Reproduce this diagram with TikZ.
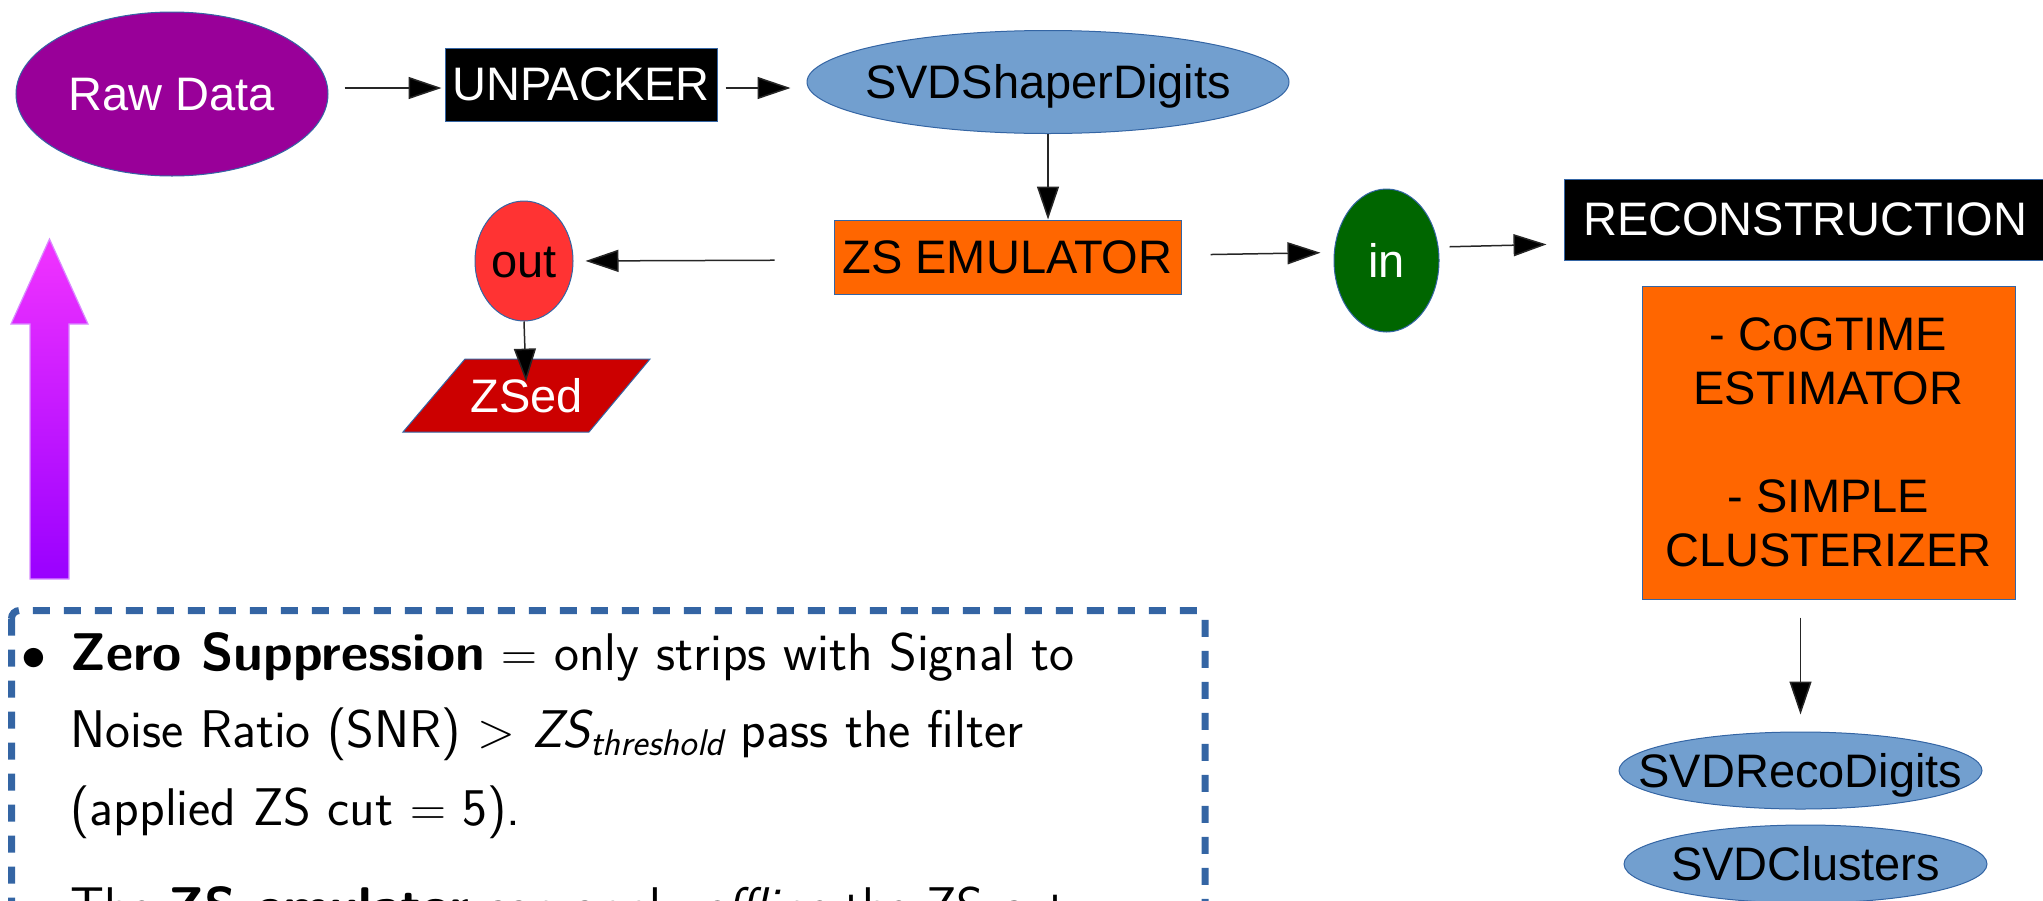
\documentclass[tikz,border=0pt]{standalone}
\usepackage{amsmath}
\usepackage{fontspec}
\newfontfamily\arial{Liberation Sans}
\usetikzlibrary{shapes.geometric,arrows.meta,calc}
\definecolor{lo}{HTML}{3465A4}
\definecolor{rawc}{HTML}{990099}
\definecolor{bluec}{HTML}{729FCF}
\definecolor{orc}{HTML}{FF6600}
\definecolor{outc}{HTML}{FF3333}
\definecolor{zsedc}{HTML}{CC0000}
\definecolor{inc}{HTML}{006600}
\definecolor{magtop}{HTML}{F233FF}
\definecolor{magbot}{HTML}{9900FF}
\definecolor{magedge}{HTML}{D98CFF}
\newcommand{\ctrtxt}[1]{\smash{\makebox[0pt]{\raisebox{-0.358em}{#1}}}}
\tikzset{
  lbl/.style={font=\arial\fontsize{23.5}{27}\selectfont},
  ell/.style={ellipse, draw=lo, line width=0.5pt, inner sep=0pt, lbl},
  box/.style={rectangle, draw=lo, line width=0.5pt, inner sep=0pt, lbl},
  arr/.style={draw=black!85, line width=0.75pt, -{Triangle[length=16.5pt,width=11pt,fill=black]}},
  bul/.style={font=\sffamily\fontsize{26.5}{30}\selectfont, inner sep=0pt, anchor=base west},
}
\begin{document}
\begin{tikzpicture}[x=0.5pt,y=-0.5pt]
\useasboundingbox (0,0) rectangle (2043,900);
\clip (0,0) rectangle (2043,900);

% nodes
\node[ell, fill=rawc, text=white, minimum width=156pt, minimum height=82pt] (raw) at (172,94) {\ctrtxt{Raw Data}};
\node[box, fill=black, text=white, minimum width=136pt, minimum height=36.5pt] (unp) at (581,84.5) {UNPACKER};
\node[ell, fill=bluec, minimum width=241pt, minimum height=51.5pt] (shaper) at (1048,82) {\ctrtxt{SVDShaperDigits}};
\node[box, fill=orc, minimum width=173.5pt, minimum height=37pt] (zsemu) at (1007.5,257) {ZS EMULATOR};
\node[ell, fill=outc, minimum width=49pt, minimum height=60pt] (out) at (524,261) {\ctrtxt{out}};
\fill[zsedc, draw=lo, line width=0.5pt] (403,432) -- (589,432) -- (650,359) -- (465,359) -- cycle;
\node[lbl, text=white, inner sep=0pt] (zsed) at (526.5,395.5) {\ctrtxt{ZSed}};
\node[ell, fill=inc, text=white, minimum width=52.5pt, minimum height=71.5pt] (in) at (1386.5,260.5) {\ctrtxt{in}};
\node[box, fill=black, text=white, minimum width=241pt, minimum height=40.5pt] (recon) at (1805,219.5) {RECONSTRUCTION};
\node[box, fill=orc, minimum width=186.5pt, minimum height=156.5pt, align=center] (algo) at (1828.5,442.5) {- CoGTIME\\ESTIMATOR\\[27pt]- SIMPLE\\CLUSTERIZER};
\node[ell, fill=bluec, minimum width=181.5pt, minimum height=38.5pt] (reco) at (1800.5,770.5) {\ctrtxt{SVDRecoDigits}};
\node[ell, fill=bluec, minimum width=181.5pt, minimum height=39pt] (clus) at (1805.5,864) {\ctrtxt{SVDClusters}};

% connectors
\draw[arr, shorten <=8pt, shorten >=1.5pt] ([yshift=3pt]raw.east) -- ([yshift=-1.75pt]unp.west);
\draw[arr, shorten <=4pt, shorten >=8pt] ([yshift=-1.75pt]unp.east) -- ([yshift=-3pt]shaper.west);
\draw[arr] (shaper.south) -- (shaper.south |- zsemu.north);
\draw[arr, shorten <=29.5pt, shorten >=6pt] ([yshift=-1.5pt]zsemu.west) -- (out.east);
\draw[arr, shorten >=6.25pt] (out.south) -- (zsed);
\draw[arr, shorten <=14.5pt, shorten >=6.5pt] ([yshift=1pt]zsemu.east) -- ([yshift=4pt]in.west);
\draw[arr, shorten <=5pt, shorten >=8.5pt] ([yshift=6.75pt]in.east) -- ([yshift=-12.25pt]recon.west);
\draw[arr, shorten <=9pt, shorten >=8.5pt] (reco.north |- algo.south) -- (reco.north);

% magenta arrow
\shadedraw[top color=magtop, bottom color=magbot, draw=magedge, line width=0.6pt]
  (49.5,239) -- (88,324) -- (69,324) -- (69,579) -- (30,579) -- (30,324) -- (11,324) -- cycle;

% dashed text frame
\draw[lo, line width=3.5pt, dash pattern=on 8.5pt off 7pt, rounded corners=4pt] (11.5,610.5) rectangle (1205,980);

\node[bul, anchor=base] (b1) at (34,670) {$\bullet$};
\node[bul] (l1) at (70,670) {\textbf{Zero Suppression} $=$ only strips with Signal to};
\node[bul] (l2) at (70,747) {Noise Ratio (SNR) $>$ $\textit{ZS}_{\textit{threshold}}$ pass the filter};
\node[bul] (l3) at (70,825) {(applied ZS cut $=$ 5).};
\node[bul, anchor=base] (b2) at (34,924) {$\bullet$};
\node[bul] (l4) at (70,924) {The \textbf{ZS emulator} can apply \textit{offline} the ZS cut};
\end{tikzpicture}
\end{document}
